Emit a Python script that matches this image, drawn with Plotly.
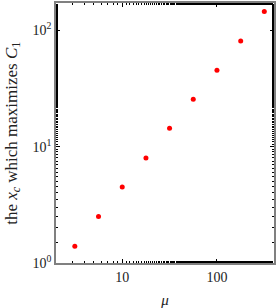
import plotly.graph_objects as go
import math

mu = [3.16, 5.62, 10.0, 17.8, 31.6, 56.2, 100.0, 178.0, 316.0]
xc = [1.39, 2.51, 4.5, 8.0, 14.4, 25.5, 45.4, 81.0, 145.0]

xtick_vals = [10, 100]
xtick_text = ["10", "100"]
ytick_vals = [1, 10, 100]
ytick_text = ["10<sup>0</sup>", "10<sup>1</sup>", "10<sup>2</sup>"]

font = "Liberation Serif"

fig = go.Figure()
fig.add_trace(go.Scatter(x=mu, y=xc, mode="markers",
                         marker=dict(color="#ff0000", size=5, line=dict(width=0)),
                         showlegend=False))

axis_common = dict(
    showgrid=False, zeroline=False, showline=True, linecolor="#808080", linewidth=1.5,
    mirror="allticks", ticks="inside", ticklen=4, tickwidth=1, tickcolor="#000000",
    tickfont=dict(family=font, size=14, color="#222"),
    minor=dict(ticks="inside", ticklen=2.5, tickwidth=1, tickcolor="#000000", showgrid=False),
)

fig.update_xaxes(type="log", range=[math.log10(2), math.log10(400)],
                 tickvals=xtick_vals, ticktext=xtick_text,
                 title=dict(text="<i>μ</i>", font=dict(family=font, size=15, color="#222"), standoff=12),
                 **axis_common)
fig.update_yaxes(type="log", range=[0, 2.234],
                 tickvals=ytick_vals, ticktext=ytick_text,
                 **axis_common)

fig.add_annotation(text="the <i>x</i><sub><i>c</i></sub> which maximizes <i>C</i><sub>1</sub>",
                   xref="paper", yref="paper", x=-0.198, y=0.5, xanchor="center", yanchor="middle",
                   textangle=-90, showarrow=False,
                   font=dict(family=font, size=17, color="#222"))

fig.update_layout(width=277, height=308, margin=dict(l=56, r=1, t=2, b=44),
                  plot_bgcolor="white", paper_bgcolor="white")

fig.write_html("out.html", config={"displayModeBar": False},
               post_script="document.body.style.margin='0';document.body.style.overflow='hidden';")
